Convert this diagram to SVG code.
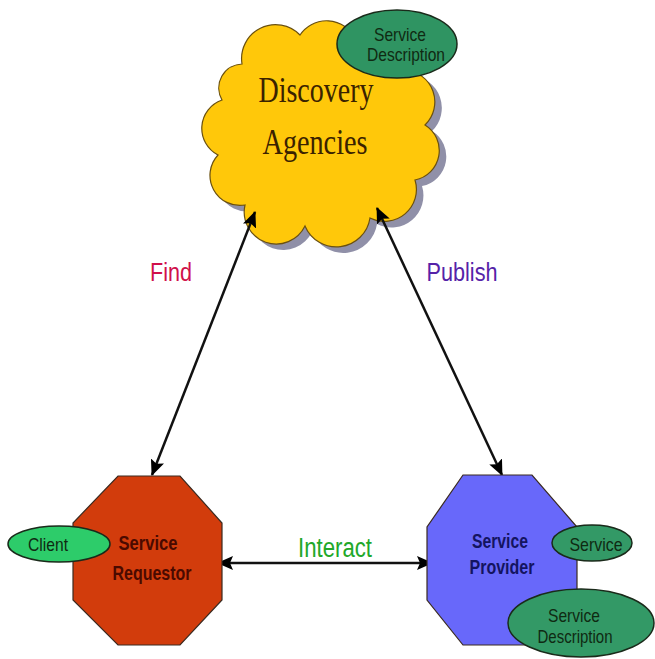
<svg xmlns="http://www.w3.org/2000/svg" width="655" height="659" viewBox="0 0 655 659">
<defs>
<style>
.lbl{font-family:"Liberation Sans Narrow","Liberation Sans",Arial,sans-serif;}
.ell{stroke:#1a2a1a;stroke-width:1.5;}
.oct{stroke:#3a2a20;stroke-width:1.2;}
.conn{stroke:#111;stroke-width:2.5;fill:none;}
.etxt{font-family:"Liberation Sans Narrow","Liberation Sans",Arial,sans-serif;font-size:19px;fill:#0f2a12;text-anchor:middle;}
</style>
<marker id="ah" viewBox="0 0 16 14" refX="15" refY="7" markerWidth="16" markerHeight="14" markerUnits="userSpaceOnUse" orient="auto-start-reverse">
<path d="M0,0 L16,7 L0,14 L3,7 Z" fill="#000"/>
</marker>
<path id="cloudShape" d="M242,64 A34,34 0 0 1 300,35 A32,32 0 0 1 355,38 A32,32 0 0 1 405,70 A32,32 0 0 1 425,125 A30,30 0 0 1 415,180 A32,32 0 0 1 370,218 A34,34 0 0 1 305,226 A32,32 0 0 1 245,205 A30,30 0 0 1 218,155 A30,30 0 0 1 222,100 A24,24 0 0 1 242,64 Z"/>
</defs>
<rect width="655" height="659" fill="#fff"/>

<g id="discovery-agencies">
<use href="#cloudShape" transform="translate(7,6)" fill="#9090a8"/>
<use href="#cloudShape" fill="#FFC80A" stroke="#6a5010" stroke-width="1.2"/>
<text x="316" y="102" font-family="'Liberation Serif','Times New Roman',serif" font-size="36" fill="#3a2200" text-anchor="middle" textLength="115" lengthAdjust="spacingAndGlyphs">Discovery</text>
<text x="315" y="154" font-family="'Liberation Serif','Times New Roman',serif" font-size="36" fill="#3a2200" text-anchor="middle" textLength="105" lengthAdjust="spacingAndGlyphs">Agencies</text>
</g>

<g id="service-description-top">
<ellipse class="ell" cx="397" cy="44" rx="60" ry="34" fill="#2F9462"/>
<text class="etxt" x="400" y="41" textLength="52" lengthAdjust="spacingAndGlyphs">Service</text>
<text class="etxt" x="406" y="61" textLength="78" lengthAdjust="spacingAndGlyphs">Description</text>
</g>

<g id="connectors">
<line class="conn" x1="255" y1="212" x2="152" y2="475" marker-start="url(#ah)" marker-end="url(#ah)"/>
<line class="conn" x1="377" y1="208" x2="502" y2="475" marker-start="url(#ah)" marker-end="url(#ah)"/>
<line class="conn" x1="218" y1="563" x2="432" y2="563" stroke-width="3.5" marker-start="url(#ah)" marker-end="url(#ah)"/>
<text class="lbl" x="171" y="281" font-size="26" fill="#D0104A" text-anchor="middle" textLength="42" lengthAdjust="spacingAndGlyphs">Find</text>
<text class="lbl" x="462" y="281" font-size="26" fill="#5522A8" text-anchor="middle" textLength="71" lengthAdjust="spacingAndGlyphs">Publish</text>
<text class="lbl" x="335" y="557" font-size="27" fill="#22A82A" text-anchor="middle" textLength="74" lengthAdjust="spacingAndGlyphs">Interact</text>
</g>

<g id="service-requestor">
<polygon class="oct" points="118,476 180,476 222,523 222,600 180,645 118,645 73,600 73,523" fill="#D23C0C"/>
<text class="lbl" x="148" y="550" font-size="21" font-weight="bold" fill="#4a0a00" text-anchor="middle" textLength="59" lengthAdjust="spacingAndGlyphs">Service</text>
<text class="lbl" x="152" y="580" font-size="21" font-weight="bold" fill="#4a0a00" text-anchor="middle" textLength="79" lengthAdjust="spacingAndGlyphs">Requestor</text>
</g>

<g id="client">
<ellipse class="ell" cx="59" cy="544" rx="51" ry="18" fill="#2DCC6A"/>
<text class="etxt" x="48" y="551" textLength="40" lengthAdjust="spacingAndGlyphs">Client</text>
</g>

<g id="service-provider">
<polygon class="oct" points="463,475 532,475 577,527 577,600 532,645 463,645 427,600 427,527" fill="#6868FA"/>
<text class="lbl" x="500" y="548" font-size="21" font-weight="bold" fill="#141460" text-anchor="middle" textLength="56" lengthAdjust="spacingAndGlyphs">Service</text>
<text class="lbl" x="502" y="574" font-size="21" font-weight="bold" fill="#141460" text-anchor="middle" textLength="65" lengthAdjust="spacingAndGlyphs">Provider</text>
</g>

<g id="service">
<ellipse class="ell" cx="592" cy="543" rx="40" ry="18" fill="#339966"/>
<text class="etxt" x="596" y="551" textLength="53" lengthAdjust="spacingAndGlyphs">Service</text>
</g>

<g id="service-description-bottom">
<ellipse class="ell" cx="581" cy="623" rx="73" ry="34" fill="#339966"/>
<text class="etxt" x="574" y="622" textLength="52" lengthAdjust="spacingAndGlyphs">Service</text>
<text class="etxt" x="575" y="643" textLength="75" lengthAdjust="spacingAndGlyphs">Description</text>
</g>
</svg>
